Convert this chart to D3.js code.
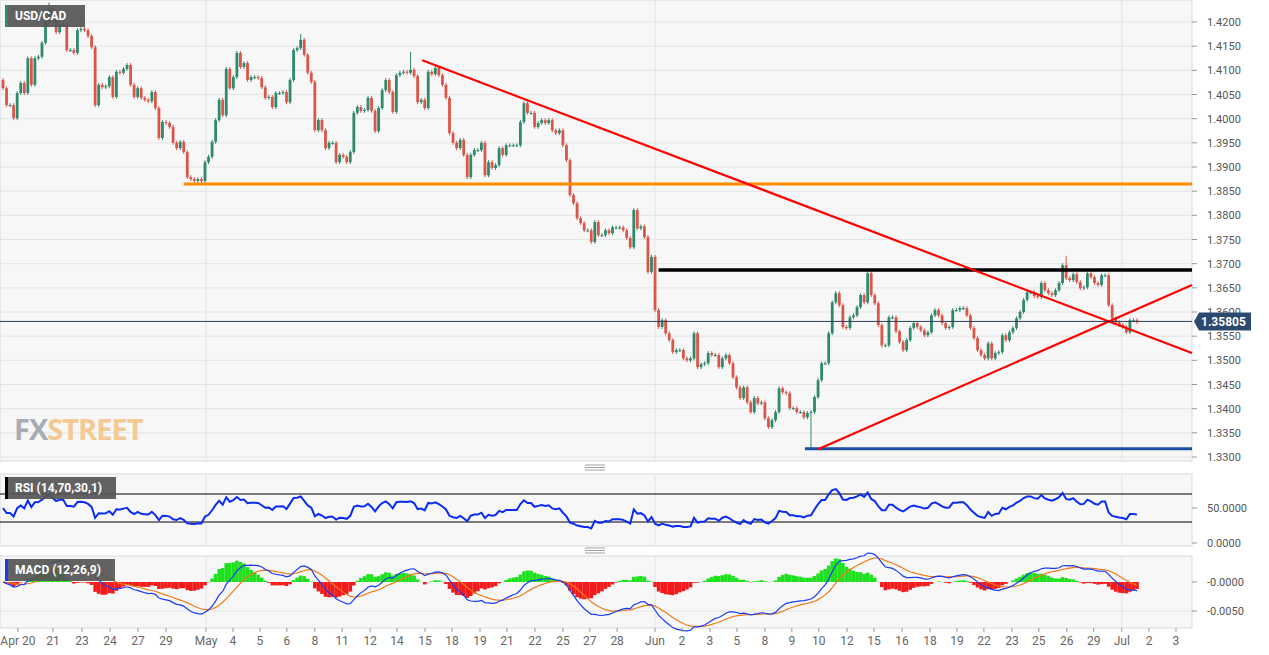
<!DOCTYPE html>
<html><head><meta charset="utf-8">
<script src="https://cdn.jsdelivr.net/npm/d3@7"></script>
<style>body{margin:0;background:#fff;font-family:Roboto,"Liberation Sans",Arial,sans-serif}</style>
</head><body><svg id="c" width="1269" height="655"></svg>
<script>
const closes = [
1.4063,1.4028,1.4028,1.4001,1.4053,1.4074,1.4053,1.4125,1.4070,1.4125,
1.4128,1.4157,1.4200,1.4229,1.4204,1.4179,1.4194,1.4194,1.4142,1.4142,
1.4136,1.4183,1.4186,1.4183,1.4171,1.4148,1.4028,1.4070,1.4065,1.4067,
1.4086,1.4045,1.4097,1.4095,1.4103,1.4111,1.4070,1.4045,1.4063,1.4043,
1.4039,1.4036,1.4055,1.4022,1.3960,1.3993,1.3991,1.3983,1.3950,1.3939,
1.3952,1.3931,1.3879,1.3875,1.3871,1.3875,1.3871,1.3910,1.3921,1.3952,
1.3997,1.4039,1.4007,1.4103,1.4063,1.4086,1.4136,1.4107,1.4115,1.4080,
1.4086,1.4086,1.4084,1.4065,1.4043,1.4045,1.4024,1.4053,1.4053,1.4055,
1.4034,1.4080,1.4142,1.4146,1.4163,1.4132,1.4095,1.4076,1.3976,1.3997,
1.3976,1.3939,1.3950,1.3950,1.3910,1.3925,1.3921,1.3910,
1.3931,1.4012,1.4024,1.4016,1.4018,1.4043,1.4016,1.3974,1.4022,1.4059,
1.4080,1.4055,1.4014,1.4090,1.4095,1.4097,1.4095,1.4101,1.4088,1.4034,
1.4039,1.4022,1.4097,1.4092,1.4105,1.4090,1.4070,1.4043,1.3970,1.3950,
1.3939,1.3956,1.3925,1.3879,1.3925,1.3935,1.3935,1.3950,1.3883,1.3910,
1.3898,1.3904,1.3939,1.3925,1.3945,1.3945,1.3945,1.3945,1.3993,1.4032,
1.4012,1.4012,1.3983,1.3991,1.3997,1.3991,1.3997,1.3976,1.3970,1.3976,
1.3945,1.3914,1.3842,1.3825,1.3794,1.3784,1.3769,1.3769,1.3745,1.3786,
1.3759,1.3759,1.3769,1.3763,1.3775,1.3775,1.3775,1.3769,1.3753,1.3734,
1.3811,1.3773,1.3777,1.3755,
1.3683,1.3714,1.3604,1.3569,1.3583,1.3556,1.3542,1.3517,1.3521,1.3521,
1.3504,1.3500,1.3504,1.3556,1.3486,1.3492,1.3494,1.3515,1.3511,1.3511,
1.3486,1.3504,1.3511,1.3494,1.3465,1.3444,1.3422,1.3444,1.3413,1.3393,
1.3422,1.3411,1.3413,1.3380,1.3362,1.3376,1.3393,1.3442,1.3434,1.3432,
1.3401,1.3401,1.3393,1.3393,1.3382,1.3391,1.3393,1.3424,1.3459,1.3494,
1.3494,1.3556,1.3620,1.3639,1.3614,1.3569,1.3567,1.3589,1.3593,1.3610,
1.3635,1.3620,1.3680,1.3635,1.3618,1.3573,1.3531,
1.3531,1.3589,1.3589,1.3560,1.3538,1.3521,1.3542,1.3567,1.3577,1.3569,
1.3562,1.3552,1.3558,1.3593,1.3604,1.3593,1.3577,1.3567,1.3569,1.3604,
1.3604,1.3608,1.3608,1.3593,1.3567,1.3546,1.3521,1.3511,1.3504,1.3535,
1.3504,1.3515,1.3517,1.3552,1.3542,1.3558,1.3567,1.3587,1.3600,1.3625,
1.3641,1.3641,1.3633,1.3631,1.3660,1.3645,1.3639,1.3635,1.3645,1.3660,
1.3697,1.3670,1.3666,1.3678,1.3662,1.3649,1.3651,1.3680,1.3672,1.3660,
1.3656,1.3676,1.3676,1.3614,1.3587,1.3579,1.3573,1.3569,1.3558,1.3583,
1.3583,1.3579];
const firstOpen = 1.4080;
const wickPad = 0.0004;
const spikes = [{i:13,high:1.4240},{i:84,high:1.4175},{i:115,high:1.4138},{i:228,low:1.3315},{i:300,high:1.3716}];
const priceTicks = d3.range(1.33, 1.42001, 0.005);
const tickLabels = ["Apr 20","21","23","24","27","29","May","4","5","6","8","11","12","14","15","18","19","21","22","25","27","28","Jun","2","3","5","8","9","10","12","15","16","18","19","22","23","25","26","29","Jul","2","3"];
const tickIdx = [4.2,14.1,22.3,30.2,38.1,46.0,57.3,64.9,72.5,80.1,88.0,95.7,103.6,111.2,119.1,126.7,134.6,142.2,150.1,158.0,165.6,173.3,184.0,191.6,199.5,207.1,215.0,222.6,230.2,238.2,245.8,253.7,261.6,269.2,276.8,284.7,292.3,300.2,307.8,315.7,323.4,331.0];
const monthIdx = [57.3,184.0,315.7];
const supportOrange = {from:51, price:1.3865};
const resistBlack = {from:185, price:1.3687};
const supportBlue = {from:226.3, price:1.3317};
const trendDown = [{i:118.3,p:1.4121},{i:335.5,p:1.3515}];
const trendUp = [{i:230,p:1.3316},{i:335.5,p:1.3656}];
const lastPrice = 1.35805;

const svg = d3.select("#c");
const W = 1192;
const x = d3.scaleLinear().domain([0, closes.length-1]).range([3, 1137]);
const y = d3.scaleLinear().domain([1.33, 1.42]).range([457, 22]);
const yR = d3.scaleLinear().domain([30, 70]).range([522, 494]);
const yM = d3.scaleLinear().domain([-0.005, 0]).range([611, 582]);
const panels = [[0,461],[474,546],[556,628]];

svg.append("rect").attr("width",1269).attr("height",655).attr("fill","#fff");
panels.forEach(([a,b])=>{
  svg.append("rect").attr("x",0).attr("y",a).attr("width",W).attr("height",b-a).attr("fill","#f7f7f7").attr("stroke","#d6d9e4");
  monthIdx.forEach(m=>svg.append("line").attr("x1",x(m)).attr("x2",x(m)).attr("y1",a).attr("y2",b).attr("stroke","#e3e3e3"));
});
[465,548].forEach(g=>{for(let k=0;k<3;k++) svg.append("line").attr("x1",585).attr("x2",605).attr("y1",g+k*2.5).attr("y2",g+k*2.5).attr("stroke","#888").attr("stroke-width",0.8);});

priceTicks.forEach(p=>{
  svg.append("line").attr("x1",0).attr("x2",W).attr("y1",y(p)).attr("y2",y(p)).attr("stroke","#e4e4e4");
  svg.append("line").attr("x1",W).attr("x2",W+5).attr("y1",y(p)).attr("y2",y(p)).attr("stroke","#999");
  svg.append("text").attr("x",1207).attr("y",y(p)+4).attr("font-size",11).attr("fill","#555").text(p.toFixed(4));
});

const wm = svg.append("text").attr("x",14).attr("y",440).attr("font-size",29).attr("font-weight","bold").attr("font-family","'Open Sans',sans-serif").attr("letter-spacing","-1");
wm.append("tspan").attr("fill","#a8adb5").text("FX");
wm.append("tspan").attr("fill","#f4c993").text("STREET");

const opens = closes.map((c,i)=> i===0 ? firstOpen : closes[i-1]);
const g = svg.append("g");
closes.forEach((c,i)=>{
  const o = opens[i];
  let hi = Math.max(o,c)+wickPad, lo = Math.min(o,c)-wickPad;
  spikes.forEach(s=>{ if(s.i===i){ if(s.high) hi=s.high; if(s.low) lo=s.low; }});
  const col = c>=o ? "#2f8a6c" : "#d9574a";
  g.append("line").attr("x1",x(i)).attr("x2",x(i)).attr("y1",y(hi)).attr("y2",y(lo)).attr("stroke",col).attr("stroke-width",1);
  const top = y(Math.max(o,c)), bh = Math.max(1, y(Math.min(o,c))-top);
  g.append("rect").attr("x",x(i)-1.4).attr("y",top).attr("width",2.8).attr("height",bh).attr("fill",col);
});

const hline=(from,p,col,w)=>svg.append("line").attr("x1",x(from)).attr("x2",W).attr("y1",y(p)).attr("y2",y(p)).attr("stroke",col).attr("stroke-width",w);
hline(supportOrange.from, supportOrange.price, "#ff8c00", 3);
hline(resistBlack.from, resistBlack.price, "#000", 3.5);
hline(supportBlue.from, supportBlue.price, "#1a4fa0", 3);
[trendDown,trendUp].forEach(t=>svg.append("line").attr("x1",x(t[0].i)).attr("y1",y(t[0].p)).attr("x2",x(t[1].i)).attr("y2",y(t[1].p)).attr("stroke","#ff0000").attr("stroke-width",2.2));
svg.append("line").attr("x1",0).attr("x2",W).attr("y1",y(lastPrice)).attr("y2",y(lastPrice)).attr("stroke","#2c3e58").attr("stroke-width",1);
svg.append("path").attr("d",`M${W+2},${y(lastPrice)} l5,-9 h52 v18 h-52 z`).attr("fill","#2c4a70");
svg.append("text").attr("x",1201).attr("y",y(lastPrice)+4.5).attr("font-size",12).attr("font-weight","bold").attr("fill","#fff").text(lastPrice.toFixed(5));

// RSI (Wilder), seeded with neutral averages
const rsi=[]; let ag=0.0008, al=0.0008;
closes.forEach((c,i)=>{
  if(i>0){const d=c-closes[i-1]; ag=(ag*13+Math.max(d,0))/14; al=(al*13+Math.max(-d,0))/14;}
  rsi.push(100-100/(1+ag/al));
});
[70,30].forEach(v=>svg.append("line").attr("x1",0).attr("x2",W).attr("y1",yR(v)).attr("y2",yR(v)).attr("stroke","#000"));
[[50,"50.0000"],[0,"0.0000"]].forEach(([v,t])=>{
  svg.append("text").attr("x",1207).attr("y",yR(v)+4).attr("font-size",11).attr("fill","#555").text(t);
  svg.append("line").attr("x1",W).attr("x2",W+5).attr("y1",yR(v)).attr("y2",yR(v)).attr("stroke","#999");
});
svg.append("path").attr("d",d3.line().x((d,i)=>x(i)).y(d=>yR(d))(rsi)).attr("fill","none").attr("stroke","#0a2cf0").attr("stroke-width",2);

const ema=(arr,n)=>{const k=2/(n+1);let e=arr[0];return arr.map(v=>e=v*k+e*(1-k));};
const e12=ema(closes,12), e26=ema(closes,26);
const macd=e12.map((v,i)=>v-e26[i]); const sig=ema(macd,9); const hist=macd.map((v,i)=>v-sig[i]);
svg.append("line").attr("x1",0).attr("x2",W).attr("y1",yM(-0.005)).attr("y2",yM(-0.005)).attr("stroke","#e4e4e4");
[[0,"-0.0000"],[-0.005,"-0.0050"]].forEach(([v,t])=>{
  svg.append("text").attr("x",1207).attr("y",yM(v)+4).attr("font-size",11).attr("fill","#555").text(t);
  svg.append("line").attr("x1",W).attr("x2",W+5).attr("y1",yM(v)).attr("y2",yM(v)).attr("stroke","#999");
});
hist.forEach((h,i)=>svg.append("rect").attr("x",x(i)-1.8).attr("width",3.6).attr("y",Math.min(yM(0),yM(h*1.3))).attr("height",Math.abs(yM(h*1.3)-yM(0))).attr("fill",h>=0?"#1fe01f":"#f21a1a"));
svg.append("path").attr("d",d3.line().x((d,i)=>x(i)).y(d=>yM(d))(sig)).attr("fill","none").attr("stroke","#f07a1a").attr("stroke-width",1.2);
svg.append("path").attr("d",d3.line().x((d,i)=>x(i)).y(d=>yM(d))(macd)).attr("fill","none").attr("stroke","#1a3cf0").attr("stroke-width",1.2);

tickIdx.forEach((t,k)=>{
  svg.append("line").attr("x1",x(t)).attr("x2",x(t)).attr("y1",628).attr("y2",632).attr("stroke","#999");
  svg.append("text").attr("x",x(t)).attr("y",645).attr("text-anchor","middle").attr("font-size",12).attr("fill","#666").text(tickLabels[k]);
});

const lbl=(x0,y0,w,t,c)=>{svg.append("rect").attr("x",x0).attr("y",y0).attr("width",w).attr("height",22).attr("fill","#555").attr("opacity",0.92);
  svg.append("rect").attr("x",x0).attr("y",y0).attr("width",3).attr("height",22).attr("fill",c);
  svg.append("text").attr("x",x0+10).attr("y",y0+15).attr("font-size",12).attr("font-weight","bold").attr("fill","#fff").text(t);};
lbl(5,5,80,"USD/CAD","#2f8a6c");
lbl(5,477,111,"RSI (14,70,30,1)","#000");
lbl(5,559,110,"MACD (12,26,9)","#1a3cf0");
</script></body></html>
